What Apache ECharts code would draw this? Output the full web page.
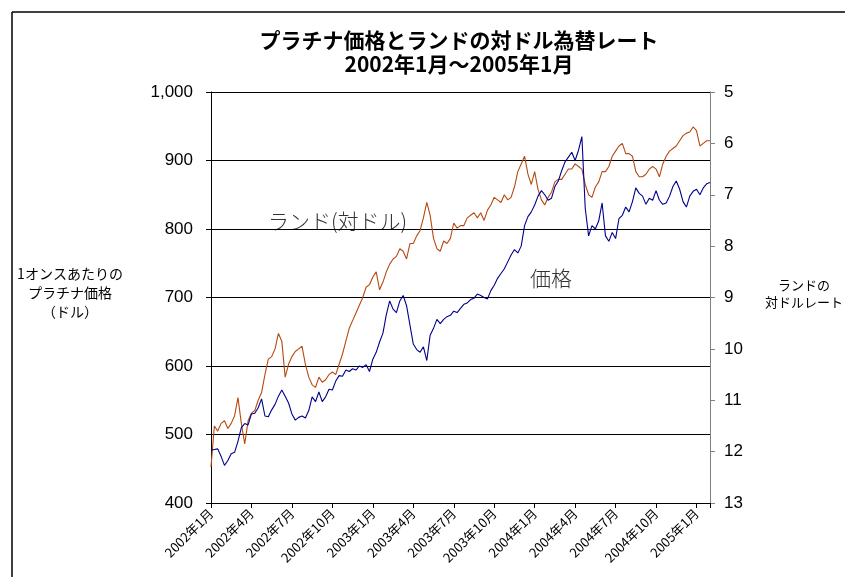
<!DOCTYPE html>
<html>
<head>
<meta charset="utf-8">
<script src="https://cdn.jsdelivr.net/npm/echarts@6/dist/echarts.min.js"></script>
<style>
html, body { margin: 0; padding: 0; background: #fff; }
#main { width: 845px; height: 577px; }
</style>
</head>
<body>
<div id="main"></div>
<script>
// one reading about every week (0.25 month), starting 2002年1月
const step = 0.25;
const startYear = 2002;

// platinum, USD per ounce (left axis)
const price = [
	477, 478, 479, 468, 455, 462, 472, 474, 490, 510,
	516, 514, 530, 531, 539, 552, 527, 526, 536, 544,
	556, 565, 556, 546, 530, 521, 525, 527, 524, 535,
	555, 548, 562, 548, 555, 566, 565, 578, 586, 585,
	594, 592, 596, 594, 600, 598, 602, 592, 610, 620,
	635, 648, 675, 695, 683, 678, 695, 703, 688, 660,
	632, 624, 620, 628, 608, 645, 655, 668, 662, 668,
	672, 674, 680, 678, 684, 690, 692, 697, 699, 705,
	703, 700, 698, 710, 718, 728, 735, 742, 752, 762,
	770, 765, 775, 805, 818, 825, 835, 848, 856, 850,
	842, 845, 862, 870, 885, 898, 905, 912, 900, 915,
	935, 830, 790, 805, 800, 812, 838, 790, 782, 795,
	786, 815, 820, 832, 825, 840, 860, 852, 848, 836,
	845, 842, 856, 842, 836, 838, 848, 862, 870, 858,
	840, 832, 848, 855, 858, 850, 860, 866, 868
];

// rand per dollar (right axis, inverted)
const rand = [
	12.3, 11.5, 11.6, 11.45, 11.4, 11.55, 11.45, 11.3, 10.95, 11.45,
	11.85, 11.4, 11.25, 11.2, 11.0, 10.85, 10.5, 10.2, 10.15, 10.0,
	9.7, 9.85, 10.55, 10.3, 10.15, 10.05, 10.0, 9.95, 10.3, 10.55,
	10.7, 10.75, 10.55, 10.65, 10.6, 10.5, 10.45, 10.5, 10.3, 10.1,
	9.85, 9.6, 9.45, 9.3, 9.15, 9.0, 8.8, 8.75, 8.6, 8.5,
	8.85, 8.7, 8.5, 8.35, 8.25, 8.2, 8.05, 8.1, 8.25, 7.95,
	7.95, 7.8, 7.7, 7.45, 7.15, 7.4, 7.85, 8.05, 8.1, 7.9,
	7.95, 7.85, 7.55, 7.65, 7.6, 7.6, 7.45, 7.4, 7.35, 7.45,
	7.35, 7.5, 7.3, 7.2, 7.05, 7.1, 7.15, 7.0, 7.1, 7.05,
	6.85, 6.55, 6.4, 6.25, 6.6, 6.8, 6.55, 6.9, 7.1, 7.2,
	7.05, 6.95, 6.75, 6.7, 6.7, 6.6, 6.5, 6.5, 6.4, 6.45,
	6.5, 6.8, 7.0, 7.05, 6.85, 6.75, 6.55, 6.55, 6.45, 6.25,
	6.15, 6.05, 6.0, 6.2, 6.2, 6.25, 6.55, 6.65, 6.65, 6.6,
	6.5, 6.45, 6.5, 6.65, 6.4, 6.25, 6.15, 6.1, 6.05, 5.95,
	5.85, 5.8, 5.78, 5.68, 5.75, 6.05, 6.0, 5.95, 5.95
];

const JP = "'Noto Sans CJK JP', sans-serif";
const NUM = "'Liberation Sans', Arial, sans-serif";

const monthLabel = (m) => {
	if (m % 3 !== 0) return "";
	return (startYear + Math.floor(m / 12)) + "年" + (m % 12 + 1) + "月";
};

const chart = echarts.init(document.getElementById("main"));
const option = {
	backgroundColor: "#fff",
	animation: false,
	grid: { left: 211, right: 135, top: 92, bottom: 74 },
	xAxis: {
		type: "value",
		min: 0,
		max: 37,
		interval: 3,
		axisLine: { lineStyle: { color: "#000" } },
		axisTick: { lineStyle: { color: "#000" }, length: 5 },
		axisLabel: {
			rotate: 45,
			fontFamily: JP,
			fontSize: 13,
			color: "#000",
			margin: 8,
			formatter: monthLabel
		},
		splitLine: { show: false }
	},
	yAxis: [
		{
			type: "value",
			min: 400,
			max: 1000,
			interval: 100,
			axisLine: { show: true, lineStyle: { color: "#000" } },
			axisTick: { show: true, length: 5, lineStyle: { color: "#000" } },
			axisLabel: {
				fontFamily: NUM,
				fontSize: 17,
				color: "#000",
				margin: 18,
				formatter: (v) => v.toLocaleString("en-US")
			},
			splitLine: { lineStyle: { color: "#000", width: 1 } }
		},
		{
			type: "value",
			min: 5,
			max: 13,
			interval: 1,
			inverse: true,
			axisLine: { show: true, lineStyle: { color: "#808080" } },
			axisTick: { show: true, length: 5, lineStyle: { color: "#808080" } },
			axisLabel: { fontFamily: NUM, fontSize: 17, color: "#000", margin: 14 },
			splitLine: { show: false }
		}
	],
	series: [
		{
			name: "ランド",
			type: "line",
			yAxisIndex: 1,
			showSymbol: false,
			lineStyle: { color: "#b64a12", width: 1.1 },
			data: rand.map((v, i) => [i * step, v])
		},
		{
			name: "価格",
			type: "line",
			showSymbol: false,
			lineStyle: { color: "#00008c", width: 1.1 },
			data: price.map((v, i) => [i * step, v])
		}
	],
	graphic: [
		// outer frame, top and left
		{ type: "line", shape: { x1: 12, y1: 12, x2: 845, y2: 12 }, style: { stroke: "#000", lineWidth: 1.5 } },
		{ type: "line", shape: { x1: 12, y1: 12, x2: 12, y2: 577 }, style: { stroke: "#000", lineWidth: 1.5 } },
		{
			type: "text", x: 459, y: 30,
			style: { text: "プラチナ価格とランドの対ドル為替レート", fill: "#000", font: "bold 21px " + JP, textAlign: "center" }
		},
		{
			type: "text", x: 459, y: 54,
			style: { text: "2002年1月～2005年1月", fill: "#000", font: "bold 21px " + JP, textAlign: "center" }
		},
		{
			type: "text", x: 70, y: 264,
			style: { text: "1オンスあたりの\nプラチナ価格\n（ドル）", fill: "#000", font: "14px " + JP, textAlign: "center", lineHeight: 19 }
		},
		{
			type: "text", x: 804, y: 277,
			style: { text: "ランドの\n対ドルレート", fill: "#000", font: "13px " + JP, textAlign: "center", lineHeight: 17 }
		},
		{
			type: "text", x: 268, y: 211,
			style: { text: "ランド(対ドル)", fill: "#333", font: "300 21px " + JP }
		},
		{
			type: "text", x: 530, y: 268,
			style: { text: "価格", fill: "#333", font: "300 21px " + JP }
		}
	]
};
option && chart.setOption(option);
</script>
</body>
</html>
